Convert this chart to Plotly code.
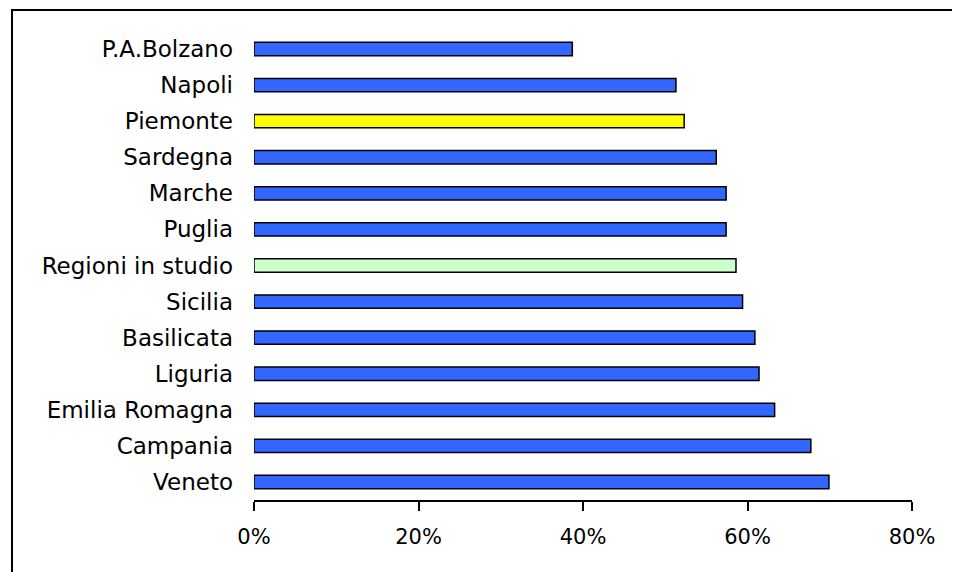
import plotly.graph_objects as go

# regioni, dall'alto verso il basso
regioni = ["P.A.Bolzano", "Napoli", "Piemonte", "Sardegna", "Marche", "Puglia",
           "Regioni in studio", "Sicilia", "Basilicata", "Liguria",
           "Emilia Romagna", "Campania", "Veneto"]
valori = [0.387, 0.513, 0.523, 0.562, 0.574, 0.574, 0.586, 0.594, 0.609,
          0.614, 0.633, 0.677, 0.699]
colori = ["#3366FF", "#3366FF", "#FFFF00", "#3366FF", "#3366FF", "#3366FF",
          "#CCFFCC", "#3366FF", "#3366FF", "#3366FF", "#3366FF", "#3366FF", "#3366FF"]
tick_x = [0, 0.2, 0.4, 0.6, 0.8]

# la pagina sposta la figura di 8px (margine del body)
OFF = 8
FW, FH = 960 - OFF, 572 - OFF
# area del grafico in pixel (coordinate dello schermo)
L, R, T, B = 254, 912, 31, 500
W, H = R - L, B - T

def px(x):
    return (x - L) / W

def py(y):
    return (B - y) / H

fig = go.Figure(go.Bar(
    x=valori, y=regioni, orientation="h",
    marker=dict(color=colori, line=dict(color="black", width=1.5)),
    width=0.37, hoverinfo="x+y"
))

fig.update_layout(
    width=FW, height=FH,
    margin=dict(l=L - OFF, r=FW - (R - OFF), t=T - OFF, b=FH - (B - OFF)),
    paper_bgcolor="white", plot_bgcolor="white",
    font=dict(family="DejaVu Sans", size=23, color="black"),
    showlegend=False,
    xaxis=dict(range=[0, 0.8], tickvals=tick_x, tickformat=".0%",
               showgrid=False, zeroline=False, showline=True,
               linecolor="black", linewidth=1.5, ticks="outside",
               ticklen=9, tickcolor="black", tickwidth=1.5,
               tickfont=dict(size=21), ticklabelstandoff=8),
    yaxis=dict(autorange="reversed", showgrid=False, zeroline=False,
               showline=False, ticks="", ticklabelstandoff=20),
    shapes=[dict(type="rect", xref="paper", yref="paper",
                 x0=px(12), x1=px(958.5), y0=py(580), y1=py(10),
                 line=dict(color="black", width=2), layer="below")],
)

fig.write_html("out.html")
